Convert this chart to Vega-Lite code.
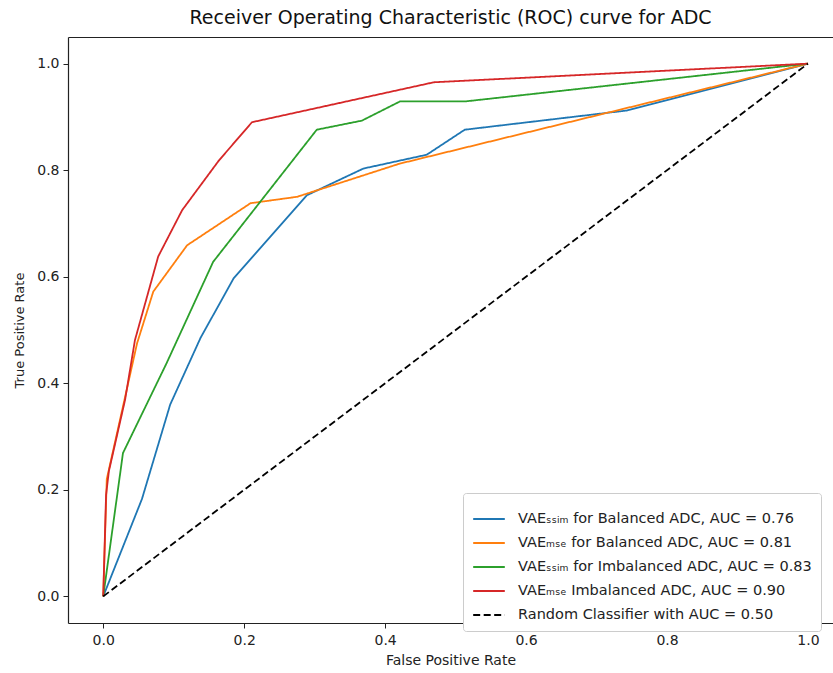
{
  "$schema": "https://vega.github.io/schema/vega-lite/v6.json",
  "autosize": {"type": "none"},
  "padding": {"left": 68, "top": 37, "right": 0, "bottom": 50},
  "width": 765,
  "height": 586,
  "title": {"text": "Receiver Operating Characteristic (ROC) curve for ADC", "fontSize": 19, "fontWeight": "normal", "font": "DejaVu Sans", "color": "#111", "offset": 9},
  "config": {
    "view": {"stroke": null},
    "font": "DejaVu Sans",
    "axis": {"grid": false, "domainColor": "#222", "tickColor": "#222", "labelColor": "#222", "titleColor": "#222", "labelFontSize": 14, "titleFontSize": 14, "titleFontWeight": "normal", "tickSize": 5, "labelPadding": 5, "domainWidth": 1.2}
  },
  "data": {"values": [
    {"s": "VAEₛₛᵢₘ for Balanced ADC, AUC = 0.76", "i": 0, "fpr": 0, "tpr": 0},
    {"s": "VAEₛₛᵢₘ for Balanced ADC, AUC = 0.76", "i": 1, "fpr": 0.055, "tpr": 0.183},
    {"s": "VAEₛₛᵢₘ for Balanced ADC, AUC = 0.76", "i": 2, "fpr": 0.095, "tpr": 0.36},
    {"s": "VAEₛₛᵢₘ for Balanced ADC, AUC = 0.76", "i": 3, "fpr": 0.138, "tpr": 0.485},
    {"s": "VAEₛₛᵢₘ for Balanced ADC, AUC = 0.76", "i": 4, "fpr": 0.185, "tpr": 0.597},
    {"s": "VAEₛₛᵢₘ for Balanced ADC, AUC = 0.76", "i": 5, "fpr": 0.289, "tpr": 0.753},
    {"s": "VAEₛₛᵢₘ for Balanced ADC, AUC = 0.76", "i": 6, "fpr": 0.369, "tpr": 0.803},
    {"s": "VAEₛₛᵢₘ for Balanced ADC, AUC = 0.76", "i": 7, "fpr": 0.459, "tpr": 0.829},
    {"s": "VAEₛₛᵢₘ for Balanced ADC, AUC = 0.76", "i": 8, "fpr": 0.513, "tpr": 0.876},
    {"s": "VAEₛₛᵢₘ for Balanced ADC, AUC = 0.76", "i": 9, "fpr": 0.743, "tpr": 0.912},
    {"s": "VAEₛₛᵢₘ for Balanced ADC, AUC = 0.76", "i": 10, "fpr": 1, "tpr": 1},
    {"s": "VAEₘₛₑ for Balanced ADC, AUC = 0.81", "i": 0, "fpr": 0, "tpr": 0},
    {"s": "VAEₘₛₑ for Balanced ADC, AUC = 0.81", "i": 1, "fpr": 0.005, "tpr": 0.22},
    {"s": "VAEₘₛₑ for Balanced ADC, AUC = 0.81", "i": 2, "fpr": 0.048, "tpr": 0.475},
    {"s": "VAEₘₛₑ for Balanced ADC, AUC = 0.81", "i": 3, "fpr": 0.071, "tpr": 0.572},
    {"s": "VAEₘₛₑ for Balanced ADC, AUC = 0.81", "i": 4, "fpr": 0.119, "tpr": 0.659},
    {"s": "VAEₘₛₑ for Balanced ADC, AUC = 0.81", "i": 5, "fpr": 0.209, "tpr": 0.738},
    {"s": "VAEₘₛₑ for Balanced ADC, AUC = 0.81", "i": 6, "fpr": 0.275, "tpr": 0.75},
    {"s": "VAEₘₛₑ for Balanced ADC, AUC = 0.81", "i": 7, "fpr": 0.303, "tpr": 0.762},
    {"s": "VAEₘₛₑ for Balanced ADC, AUC = 0.81", "i": 8, "fpr": 0.42, "tpr": 0.812},
    {"s": "VAEₘₛₑ for Balanced ADC, AUC = 0.81", "i": 9, "fpr": 0.46, "tpr": 0.825},
    {"s": "VAEₘₛₑ for Balanced ADC, AUC = 0.81", "i": 10, "fpr": 1, "tpr": 1},
    {"s": "VAEₛₛᵢₘ for Imbalanced ADC, AUC = 0.83", "i": 0, "fpr": 0, "tpr": 0},
    {"s": "VAEₛₛᵢₘ for Imbalanced ADC, AUC = 0.83", "i": 1, "fpr": 0.028, "tpr": 0.269},
    {"s": "VAEₛₛᵢₘ for Imbalanced ADC, AUC = 0.83", "i": 2, "fpr": 0.09, "tpr": 0.438},
    {"s": "VAEₛₛᵢₘ for Imbalanced ADC, AUC = 0.83", "i": 3, "fpr": 0.156, "tpr": 0.628},
    {"s": "VAEₛₛᵢₘ for Imbalanced ADC, AUC = 0.83", "i": 4, "fpr": 0.303, "tpr": 0.876},
    {"s": "VAEₛₛᵢₘ for Imbalanced ADC, AUC = 0.83", "i": 5, "fpr": 0.367, "tpr": 0.893},
    {"s": "VAEₛₛᵢₘ for Imbalanced ADC, AUC = 0.83", "i": 6, "fpr": 0.421, "tpr": 0.929},
    {"s": "VAEₛₛᵢₘ for Imbalanced ADC, AUC = 0.83", "i": 7, "fpr": 0.513, "tpr": 0.929},
    {"s": "VAEₛₛᵢₘ for Imbalanced ADC, AUC = 0.83", "i": 8, "fpr": 1, "tpr": 1},
    {"s": "VAEₘₛₑ Imbalanced ADC, AUC = 0.90", "i": 0, "fpr": 0, "tpr": 0},
    {"s": "VAEₘₛₑ Imbalanced ADC, AUC = 0.90", "i": 1, "fpr": 0.004, "tpr": 0.19},
    {"s": "VAEₘₛₑ Imbalanced ADC, AUC = 0.90", "i": 2, "fpr": 0.008, "tpr": 0.235},
    {"s": "VAEₘₛₑ Imbalanced ADC, AUC = 0.90", "i": 3, "fpr": 0.031, "tpr": 0.369},
    {"s": "VAEₘₛₑ Imbalanced ADC, AUC = 0.90", "i": 4, "fpr": 0.045, "tpr": 0.481},
    {"s": "VAEₘₛₑ Imbalanced ADC, AUC = 0.90", "i": 5, "fpr": 0.078, "tpr": 0.638},
    {"s": "VAEₘₛₑ Imbalanced ADC, AUC = 0.90", "i": 6, "fpr": 0.112, "tpr": 0.725},
    {"s": "VAEₘₛₑ Imbalanced ADC, AUC = 0.90", "i": 7, "fpr": 0.164, "tpr": 0.818},
    {"s": "VAEₘₛₑ Imbalanced ADC, AUC = 0.90", "i": 8, "fpr": 0.211, "tpr": 0.89},
    {"s": "VAEₘₛₑ Imbalanced ADC, AUC = 0.90", "i": 9, "fpr": 0.469, "tpr": 0.965},
    {"s": "VAEₘₛₑ Imbalanced ADC, AUC = 0.90", "i": 10, "fpr": 1, "tpr": 1},
    {"s": "Random Classifier with AUC = 0.50", "i": 0, "fpr": 0, "tpr": 0},
    {"s": "Random Classifier with AUC = 0.50", "i": 1, "fpr": 1, "tpr": 1}
  ]},
  "layer": [
    {
      "mark": {"type": "line", "strokeWidth": 1.8, "clip": true},
      "encoding": {
        "x": {"field": "fpr", "type": "quantitative", "scale": {"domain": [-0.05, 1.0355], "nice": false, "zero": false}, "axis": {"title": "False Positive Rate", "values": [0, 0.2, 0.4, 0.6, 0.8, 1.0], "format": ".1f", "titlePadding": 6}},
        "y": {"field": "tpr", "type": "quantitative", "scale": {"domain": [-0.05, 1.05], "nice": false, "zero": false}, "axis": {"title": "True Positive Rate", "values": [0, 0.2, 0.4, 0.6, 0.8, 1.0], "format": ".1f", "titlePadding": 10, "labelPadding": 4, "titleFontSize": 13}},
        "order": {"field": "i", "type": "quantitative"},
        "color": {"field": "s", "type": "nominal",
          "scale": {"domain": ["VAEₛₛᵢₘ for Balanced ADC, AUC = 0.76", "VAEₘₛₑ for Balanced ADC, AUC = 0.81", "VAEₛₛᵢₘ for Imbalanced ADC, AUC = 0.83", "VAEₘₛₑ Imbalanced ADC, AUC = 0.90", "Random Classifier with AUC = 0.50"], "range": ["#1f77b4", "#ff7f0e", "#2ca02c", "#d62728", "#000000"]},
          "legend": {"title": null, "orient": "none", "legendX": 395, "legendY": 456, "labelFontSize": 14.5, "labelColor": "#222", "symbolType": "stroke", "symbolSize": 1000, "symbolStrokeWidth": 2, "labelOffset": 12, "rowPadding": -9, "padding": 9, "strokeColor": "#cccccc", "fillColor": "#ffffff", "cornerRadius": 3, "labelLimit": 400}},
        "strokeDash": {"field": "s", "type": "nominal",
          "scale": {"domain": ["VAEₛₛᵢₘ for Balanced ADC, AUC = 0.76", "VAEₘₛₑ for Balanced ADC, AUC = 0.81", "VAEₛₛᵢₘ for Imbalanced ADC, AUC = 0.83", "VAEₘₛₑ Imbalanced ADC, AUC = 0.90", "Random Classifier with AUC = 0.50"], "range": [[1, 0], [1, 0], [1, 0], [1, 0], [7, 3.5]]},
          "legend": {"title": null, "orient": "none", "legendX": 395, "legendY": 456, "labelFontSize": 14.5, "labelColor": "#222", "symbolType": "stroke", "symbolSize": 1000, "symbolStrokeWidth": 2, "labelOffset": 12, "rowPadding": -9, "padding": 9, "strokeColor": "#cccccc", "fillColor": "#ffffff", "cornerRadius": 3, "labelLimit": 400}}
      }
    },
    {
      "mark": {"type": "rule", "opacity": 0},
      "data": {"values": [{"fpr": 0}]},
      "encoding": {
        "x": {"field": "fpr", "type": "quantitative", "axis": {"orient": "top", "labels": false, "ticks": false, "title": null}}
      }
    }
  ],
  "resolve": {"axis": {"x": "independent"}}
}
